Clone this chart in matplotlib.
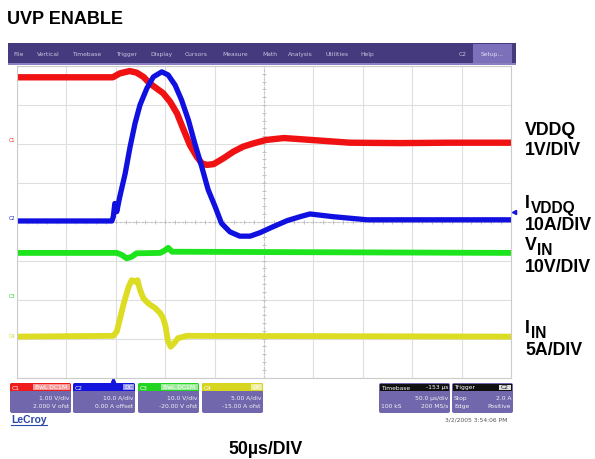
import matplotlib.pyplot as plt
from matplotlib.patches import Rectangle, FancyBboxPatch
import numpy as np

plt.rcParams['font.family'] = ['Liberation Sans', 'DejaVu Sans']

# time in microseconds (50 us/div, 10 div); traces in screen divisions (0 = bottom, 8 = top)
vddq_t = [0, 97, 104, 114, 121, 128, 134, 141, 148, 155, 162, 168, 175, 182,
          187, 192, 199, 209, 219, 229, 239, 252, 270, 287, 337, 388, 438, 500]
vddq_div = [7.71, 7.71, 7.81, 7.87, 7.83, 7.72, 7.56, 7.43, 7.30, 7.08, 6.78, 6.40, 5.97, 5.67,
            5.50, 5.46, 5.48, 5.63, 5.80, 5.93, 6.01, 6.10, 6.15, 6.12, 6.03, 6.02, 6.03, 6.03]

ivddq_t = [0, 96, 97.5, 99, 101, 104, 109.5, 114.5, 119.5, 124.5, 131.5, 138, 146.5, 153,
           160, 166.5, 173.5, 180, 187, 193.5, 200.5, 207, 215.5, 225.5, 236, 246, 259,
           273.5, 286.5, 296.5, 320, 354.5, 405, 500]
ivddq_div = [4.02, 4.02, 4.13, 4.47, 4.26, 4.64, 5.24, 5.93, 6.53, 7.00, 7.43, 7.72, 7.85, 7.77,
             7.51, 7.13, 6.61, 6.01, 5.41, 4.82, 4.39, 3.96, 3.74, 3.63, 3.63, 3.72, 3.87,
             4.03, 4.13, 4.20, 4.13, 4.05, 4.05, 4.05]

vin_t = [0, 101, 106, 111, 116, 121, 145, 150, 153, 157, 500]
vin_div = [3.20, 3.20, 3.15, 3.06, 3.10, 3.19, 3.20, 3.27, 3.33, 3.23, 3.20]

iin_t = [0, 97.5, 101, 104, 108, 113, 116, 119.5, 122, 124.5, 128, 133, 140, 145,
         148, 150.5, 152.5, 155.5, 159, 163, 172, 500]
iin_div = [1.05, 1.07, 1.18, 1.48, 1.90, 2.33, 2.50, 2.46, 2.50, 2.25, 2.03, 1.90, 1.78, 1.65,
           1.52, 1.30, 0.96, 0.79, 0.88, 1.01, 1.07, 1.05]

menu_items = ['File', 'Vertical', 'Timebase', 'Trigger', 'Display', 'Cursors',
              'Measure', 'Math', 'Analysis', 'Utilities', 'Help']
menu_x = [13, 37, 72, 116, 150, 185, 222, 262, 288, 325, 360]

channels = ['C1', 'C2', 'C3', 'C4']
ch_colors = ['#ee1c1c', '#1414dc', '#22d422', '#d6d620']
ch_badges = ['BwL DC1M', 'DC', 'BwL DC1M', 'DC']
ch_scale = ['1.00 V/div', '10.0 A/div', '10.0 V/div', '5.00 A/div']
ch_offset = ['2.000 V ofst', '0.00 A offset', '-20.00 V ofst', '-15.00 A ofst']
ch_box_x = [(10, 71), (73, 135), (138, 199), (202, 263)]
ch_mark_y = [141, 218, 297, 336]

W, H = 595, 459
fig = plt.figure(figsize=(W / 100, H / 100), dpi=100)

# background axes in pixel units
bg = fig.add_axes([0, 0, 1, 1])
bg.set_xlim(0, W)
bg.set_ylim(H, 0)
bg.axis('off')

small = dict(family='DejaVu Sans', fontsize=4.3)

# title
bg.text(7, 24, 'UVP ENABLE', fontsize=13, fontweight='bold')

# menu bar
bg.add_patch(Rectangle((8, 43), 508, 21, fc='#463a7e', ec='none'))
bg.add_patch(Rectangle((8, 63), 508, 2, fc='#8a80c0', ec='none'))
for name, x in zip(menu_items, menu_x):
    bg.text(x, 56, name, color='#c8c4dc', **small)
bg.text(459, 56, 'C2', color='#c8c4dc', **small)
bg.add_patch(Rectangle((473, 44), 39, 19, fc='#7d70bb', ec='none'))
bg.text(492, 56, 'Setup...', color='#e0ddf0', ha='center', **small)

# plot area
L, R, T, B = 17, 511, 66, 377.5
ax = fig.add_axes([L / W, 1 - B / H, (R - L) / W, (B - T) / H])
ax.set_xlim(0, 500)
ax.set_ylim(0, 8)
ax.set_xticks(np.arange(0, 501, 50))
ax.set_yticks(range(9))
ax.grid(color='#dedede', lw=0.8)
ax.tick_params(length=0, labelbottom=False, labelleft=False)
for s in ax.spines.values():
    s.set_color('#cccccc')
    s.set_linewidth(0.8)
ax.axvline(250, color='#c4c4c4', lw=0.8, ls=(0, (2, 2)))
ax.axhline(4, color='#c4c4c4', lw=0.8, ls=(0, (2, 2)))
ax.plot(np.arange(0, 501, 10), np.full(51, 4), ls='none', marker='|', ms=3,
        color='#bbbbbb', mew=0.6)
ax.plot(np.full(41, 250), np.arange(0, 8.01, 0.2), ls='none', marker='_', ms=3,
        color='#bbbbbb', mew=0.6)

ax.plot(iin_t, iin_div, color='#dcdc22', lw=4.2, solid_joinstyle='round')
ax.plot(vin_t, vin_div, color='#1ee41e', lw=4.2, solid_joinstyle='round')
ax.plot(vddq_t, vddq_div, color='#f01212', lw=4.6, solid_joinstyle='round')
ax.plot(ivddq_t, ivddq_div, color='#1010e0', lw=3.8, solid_joinstyle='round')

# channel markers left of the grid
for ch, col, y in zip(channels, ch_colors, ch_mark_y):
    bg.text(9, y, ch, color=col, fontsize=3.6, family='DejaVu Sans', va='center')
bg.plot([113], [380], marker='^', ms=3, color='#1414dc')
bg.plot([514], [212], marker='<', ms=3, color='#1414dc')

# channel boxes
body_col = '#7167ad'
for ch, col, badge, l1, l2, (x0, x1) in zip(channels, ch_colors, ch_badges,
                                              ch_scale, ch_offset, ch_box_x):
    w = x1 - x0
    bg.add_patch(FancyBboxPatch((x0, 383), w, 30, boxstyle='round,pad=0,rounding_size=2',
                                fc=body_col, ec='none'))
    bg.add_patch(FancyBboxPatch((x0, 383), w, 8, boxstyle='round,pad=0,rounding_size=2',
                                fc=col, ec='none'))
    bg.add_patch(Rectangle((x0, 387), w, 4, fc=col, ec='none'))
    bg.text(x0 + 2, 389.5, ch, color='white', **small)
    bw = 37 if len(badge) > 2 else 11
    bg.add_patch(Rectangle((x1 - bw - 1, 384), bw, 6, fc='white', alpha=0.55, ec='none'))
    bg.text(x1 - 1 - bw / 2, 389.3, badge, color='white', ha='center', **small)
    bg.text(x1 - 2, 400, l1, color='#f2f2f2', ha='right', **small)
    bg.text(x1 - 2, 408, l2, color='#f2f2f2', ha='right', **small)

# timebase / trigger boxes
for x0, x1 in [(379, 450), (452, 513)]:
    bg.add_patch(FancyBboxPatch((x0, 383), x1 - x0, 30, boxstyle='round,pad=0,rounding_size=2',
                                fc=body_col, ec='none'))
    bg.add_patch(Rectangle((x0 + 1, 384), x1 - x0 - 2, 7, fc='#111111', ec='none'))
bg.text(381, 389.5, 'Timebase', color='white', **small)
bg.text(448, 389.5, '-153 µs', color='white', ha='right', **small)
bg.text(448, 400, '50.0 µs/div', color='#f2f2f2', ha='right', **small)
bg.text(381, 408, '100 kS', color='#f2f2f2', **small)
bg.text(448, 408, '200 MS/s', color='#f2f2f2', ha='right', **small)
bg.text(454, 389.5, 'Trigger', color='white', **small)
bg.add_patch(Rectangle((499, 384.5), 12, 5.5, fc='#dddddd', ec='none'))
bg.text(505, 389.3, 'C2', color='#111111', ha='center', **small)
bg.text(454, 400, 'Stop', color='#f2f2f2', **small)
bg.text(511, 400, '2.0 A', color='#f2f2f2', ha='right', **small)
bg.text(454, 408, 'Edge', color='#f2f2f2', **small)
bg.text(511, 408, 'Positive', color='#f2f2f2', ha='right', **small)

bg.text(507, 422, '3/2/2005 3:54:06 PM', color='#555555', ha='right', **small)
bg.text(11, 423, 'LeCroy', color='#2a48a8', fontsize=7.5, fontweight='bold')
bg.plot([11, 47], [425, 425], color='#2a48a8', lw=0.8)

# right-hand labels
lab = dict(fontsize=12.8, fontweight='bold')
sub = dict(fontsize=11.2, fontweight='bold')
bg.text(525, 135, 'VDDQ', **lab)
bg.text(525, 155, '1V/DIV', **lab)
bg.text(525, 208, 'I', **lab)
bg.text(531, 213, 'VDDQ', **sub)
bg.text(525, 230, '10A/DIV', **lab)
bg.text(525, 250, 'V', **lab)
bg.text(537, 255, 'IN', **sub)
bg.text(525, 272, '10V/DIV', **lab)
bg.text(525, 333, 'I', **lab)
bg.text(531, 338, 'IN', **sub)
bg.text(525, 355, '5A/DIV', **lab)

bg.text(228, 454, '50µs/DIV', **lab)

fig.savefig('out.png', dpi=100)
